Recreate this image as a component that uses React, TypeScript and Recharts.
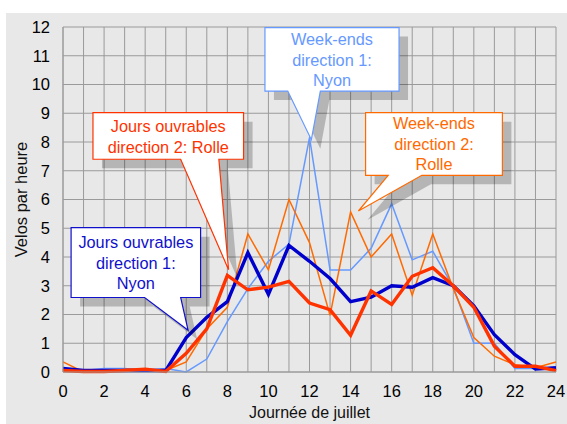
import React from 'react';
import {
  LineChart,
  Line,
  XAxis,
  YAxis,
  CartesianGrid,
  ReferenceDot,
} from 'recharts';

const hours = [0, 1, 2, 3, 4, 5, 6, 7, 8, 9, 10, 11, 12, 13, 14, 15, 16, 17, 18, 19, 20, 21, 22, 23, 24];

// Jours ouvrables, direction 1 (Nyon)
const weekdayNyon = [0.12, 0.05, 0.05, 0.05, 0.05, 0.05, 1.2, 1.9, 2.45, 4.15, 2.7, 4.4, 3.85, 3.25, 2.45, 2.6, 3.0, 2.95, 3.28, 3.0, 2.3, 1.3, 0.6, 0.1, 0.15];
// Jours ouvrables, direction 2 (Rolle)
const weekdayRolle = [0.05, 0.02, 0.02, 0.05, 0.1, 0.02, 0.65, 1.5, 3.36, 2.86, 2.95, 3.15, 2.4, 2.17, 1.28, 2.82, 2.35, 3.33, 3.63, 3.0, 2.25, 0.9, 0.2, 0.2, 0.05];
// Week-ends, direction 1 (Nyon)
const weekendNyon = [0.05, 0.05, 0.12, 0.12, 0.05, 0.12, 0.0, 0.45, 1.75, 2.9, 3.85, 4.45, 8.15, 3.55, 3.55, 4.3, 5.85, 3.9, 4.2, 2.95, 1.0, 1.0, 0.12, 0.12, 0.12];
// Week-ends, direction 2 (Rolle)
const weekendRolle = [0.35, 0.0, 0.02, 0.1, 0.1, 0.05, 0.35, 1.5, 2.25, 4.8, 3.55, 6.0, 4.5, 1.97, 5.57, 4.0, 4.8, 2.67, 4.8, 2.9, 1.2, 0.55, 0.25, 0.15, 0.35];

const xTicks = hours;
const yTicks = [0, 1, 2, 3, 4, 5, 6, 7, 8, 9, 10, 11, 12];

const data = hours.map((h, i) => ({
  h,
  wdNyon: weekdayNyon[i],
  wdRolle: weekdayRolle[i],
  weNyon: weekendNyon[i],
  weRolle: weekendRolle[i],
}));

const FONT = '"Liberation Sans", Arial, sans-serif';

interface CalloutProps {
  cx?: number;
  cy?: number;
  box: { l: number; r: number; t: number; b: number; tl: number; tr: number };
  lines: string[];
  color: string;
  first: number;
}

// speech bubble, tip sits on the data point, box offsets in px from the tip
function Callout({ cx = 0, cy = 0, box, lines, color, first }: CalloutProps) {
  const { l, r, t, b, tl, tr } = box;
  const path = (dx: number, dy: number) => {
    const x = cx + dx;
    const y = cy + dy;
    return `M${x + l},${y + t} H${x + r} V${y + b} H${x + tr} L${x},${y} L${x + tl},${y + b} H${x + l} Z`;
  };
  const mid = cx + (l + r) / 2;
  return (
    <g>
      <path d={path(9, 9)} fill="#000" fillOpacity={0.22} />
      <path d={path(0, 0)} fill="#fff" stroke={color} strokeWidth={1.2} />
      {lines.map((s, i) => (
        <text
          key={i}
          x={mid}
          y={cy + t + first + i * 20.5}
          textAnchor="middle"
          dominantBaseline="central"
          fill={color}
          fontSize={16.3}
          fontFamily={FONT}
        >
          {s}
        </text>
      ))}
    </g>
  );
}

const YTitle = (props: any) => {
  const vb = props.viewBox || {};
  const cy = vb.y + vb.height / 2;
  return (
    <text
      x={21}
      y={cy}
      transform={`rotate(-90, 21, ${cy})`}
      textAnchor="middle"
      dominantBaseline="central"
      fontSize={16.5}
      fontFamily={FONT}
      fill="#111"
    >
      Velos par heure
    </text>
  );
};

export default function App() {
  return (
    <div style={{ position: 'absolute', left: 0, top: 0, width: 567, height: 424, background: '#fff', fontFamily: FONT }}>
      <div style={{ position: 'absolute', left: 6, top: 13, width: 561, height: 411, background: '#e8e8e8' }} />
      <div style={{ position: 'absolute', left: 0, top: 0 }}>
        <LineChart width={567} height={424} data={data} margin={{ top: 27, right: 11, left: 0, bottom: 0 }}>
          <CartesianGrid stroke="#9a9a9a" strokeWidth={1} fill="#e8e8e8" />
          <XAxis
            dataKey="h"
            type="number"
            domain={[0, 24]}
            ticks={xTicks}
            interval={0}
            height={52}
            axisLine={{ stroke: '#9a9a9a' }}
            tickLine={false}
            tickSize={6}
            tickMargin={7}
            tickFormatter={(v: number) => (v % 2 === 0 ? String(v) : '')}
            tick={{ fill: '#000', fontSize: 16.5, fontFamily: FONT }}
            label={{ value: 'Journée de juillet', position: 'insideBottom', offset: 6, fill: '#111', fontSize: 16, fontFamily: FONT }}
          />
          <YAxis
            type="number"
            domain={[0, 12]}
            ticks={yTicks}
            interval={0}
            width={63}
            axisLine={{ stroke: '#9a9a9a' }}
            tickLine={false}
            tickSize={6}
            tickMargin={7}
            tick={{ fill: '#000', fontSize: 16.5, fontFamily: FONT }}
            label={{ content: YTitle }}
          />
          <Line dataKey="weNyon" stroke="#6699ff" strokeWidth={1.5} dot={false} isAnimationActive={false} />
          <Line dataKey="weRolle" stroke="#ff6a00" strokeWidth={1.5} dot={false} isAnimationActive={false} />
          <Line dataKey="wdNyon" stroke="#0000cc" strokeWidth={3.4} dot={false} isAnimationActive={false} />
          <Line dataKey="wdRolle" stroke="#ff3300" strokeWidth={3.4} dot={false} isAnimationActive={false} />
          <ReferenceDot
            x={6.09}
            y={1.45}
            ifOverflow="visible"
            shape={(p: any) => (
              <Callout {...p} color="#1010cc" first={14.5}
                box={{ l: -117, r: 12.5, t: -102.6, b: -32.8, tl: -43.5, tr: -7.4 }}
                lines={['Jours ouvrables', 'direction 1:', 'Nyon']} />
            )}
          />
          <ReferenceDot
            x={8.06}
            y={3.56}
            ifOverflow="visible"
            shape={(p: any) => (
              <Callout {...p} color="#ff3300" first={13.6}
                box={{ l: -135.6, r: 15, t: -157, b: -110.4, tl: -47.9, tr: -9.7 }}
                lines={['Jours ouvrables', 'direction 2: Rolle']} />
            )}
          />
          <ReferenceDot
            x={12.09}
            y={8.08}
            ifOverflow="visible"
            shape={(p: any) => (
              <Callout {...p} color="#6699ff" first={11.5}
                box={{ l: -46.4, r: 87.7, t: -112.1, b: -48.6, tl: -23.6, tr: 9 }}
                lines={['Week-ends', 'direction 1:', 'Nyon']} />
            )}
          />
          <ReferenceDot
            x={14.38}
            y={5.6}
            ifOverflow="visible"
            shape={(p: any) => (
              <Callout {...p} color="#ff6a00" first={10.5}
                box={{ l: 7.2, r: 144, t: -98.3, b: -35.7, tl: 29.8, tr: 63.5 }}
                lines={['Week-ends', 'direction 2:', 'Rolle']} />
            )}
          />
        </LineChart>
      </div>
    </div>
  );
}
